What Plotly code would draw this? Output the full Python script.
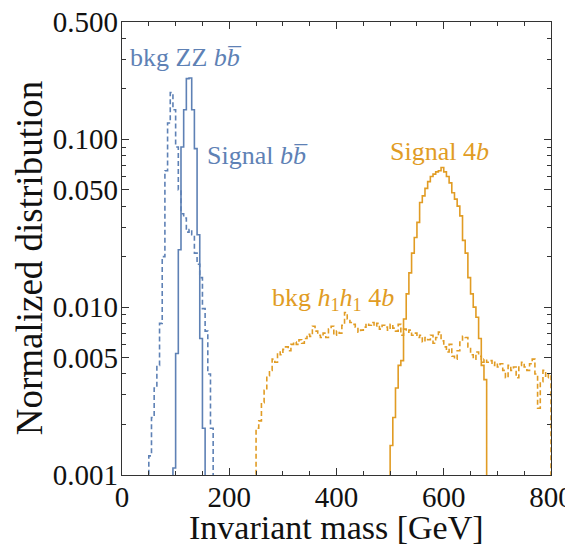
import plotly.graph_objects as go

# ---------------- data (normalized histograms, 5 GeV bins) ----------------
bin_width = 5

# Signal b b-bar (blue solid): first bin edge and bin contents
sig_bb_start = 95
sig_bb = [0.0011, 0.0053, 0.022, 0.090, 0.150, 0.230, 0.232, 0.150, 0.088,
          0.027, 0.0065, 0.0019]

# bkg ZZ b b-bar (blue dashed)
bkg_zz_start = 50
bkg_zz = [0.0013, 0.0022, 0.0033, 0.0045, 0.0080, 0.020, 0.065, 0.125, 0.190,
          0.150, 0.090, 0.050, 0.036, 0.034, 0.028, 0.029, 0.027, 0.021,
          0.018, 0.015, 0.0098, 0.0072, 0.0040, 0.0019]

# Signal 4b (orange solid)
sig_4b_start = 500
sig_4b = [0.0015, 0.0022, 0.0033, 0.0045, 0.0048, 0.0085, 0.012, 0.016,
          0.021, 0.026, 0.032, 0.042, 0.046, 0.051, 0.056, 0.060, 0.062,
          0.064, 0.065, 0.068, 0.064, 0.060, 0.055, 0.048, 0.044, 0.040,
          0.035, 0.025, 0.021, 0.015, 0.012, 0.010, 0.0087, 0.0065, 0.0045,
          0.0037]

# bkg h1 h1 4b (orange dashed)
bkg_4b_start = 250
bkg_4b = [0.0019, 0.0021, 0.0027, 0.0032, 0.0039, 0.0042, 0.0049, 0.0047,
          0.0054, 0.0052, 0.0056, 0.0058, 0.0055, 0.0060, 0.0062, 0.0060,
          0.0064, 0.0061, 0.0065, 0.0069, 0.0067, 0.0077, 0.0072, 0.0068,
          0.0066, 0.0070, 0.0066, 0.0074, 0.0077, 0.0068, 0.0072, 0.0070,
          0.0078, 0.0093, 0.0085, 0.0081, 0.0079, 0.0076, 0.0071, 0.0073,
          0.0076, 0.0080, 0.0078, 0.0081, 0.0077, 0.0080, 0.0074, 0.0078,
          0.0076, 0.0073, 0.0079, 0.0075, 0.0072, 0.0079, 0.0068, 0.0074,
          0.0071, 0.0073, 0.0068, 0.0070, 0.0066, 0.0068, 0.0062, 0.0066,
          0.0064, 0.0068, 0.0061, 0.0066, 0.0071, 0.0063, 0.0058, 0.0054,
          0.0060, 0.0051, 0.0049, 0.0055, 0.0062, 0.0067, 0.0066, 0.0058,
          0.0052, 0.0049, 0.0054, 0.0051, 0.0047, 0.0049, 0.0047, 0.0048,
          0.0045, 0.0047, 0.0044, 0.0046, 0.0042, 0.0038, 0.0045, 0.0042,
          0.0044, 0.0038, 0.0045, 0.0047, 0.0044, 0.0042, 0.0046, 0.0049,
          0.0040, 0.0025, 0.0036, 0.0042, 0.0038, 0.0040]

y_major = [0.001, 0.005, 0.01, 0.05, 0.1, 0.5]
y_major_text = ["0.001", "0.005", "0.010", "0.050", "0.100", "0.500"]
y_minor = [0.002, 0.003, 0.004, 0.006, 0.007, 0.008, 0.009,
           0.02, 0.03, 0.04, 0.06, 0.07, 0.08, 0.09, 0.2, 0.3, 0.4]
x_major = [0, 200, 400, 600, 800]
x_minor = [50, 100, 150, 250, 300, 350, 450, 500, 550, 650, 700, 750]

BLUE = "#5E81B5"
ORANGE = "#E19C24"
FONT = "Liberation Serif"
FLOOR = 1e-5  # below the visible range: the histogram drops off the axis


def step_xy(start, values):
    edges = [start + bin_width * i for i in range(len(values) + 1)]
    x = [edges[0]] + edges
    y = [FLOOR] + list(values) + [FLOOR]
    return x, y


fig = go.Figure()
for start, vals, color, dash in [
    (bkg_zz_start, bkg_zz, BLUE, "5px,3px"),
    (sig_bb_start, sig_bb, BLUE, "solid"),
    (bkg_4b_start, bkg_4b, ORANGE, "5px,3px"),
    (sig_4b_start, sig_4b, ORANGE, "solid"),
]:
    x, y = step_xy(start, vals)
    fig.add_trace(go.Scatter(x=x, y=y, mode="lines", line_shape="hv",
                             line=dict(color=color, width=1.6, dash=dash),
                             hoverinfo="skip", showlegend=False))

ann = [
    (11, -0.515, "bkg ZZ <i>b</i><i>b\u0305</i>", BLUE),
    (155, -1.096, "Signal <i>b</i><i>b\u0305</i>", BLUE),
    (496, -1.072, "Signal 4<i>b</i>", ORANGE),
    (276, -1.952, "bkg <i>h</i><sub>1</sub><i>h</i><sub>1</sub> 4<i>b</i>", ORANGE),
]
for x, y, t, c in ann:
    fig.add_annotation(x=x, y=y, xref="x", yref="y", text=t, showarrow=False,
                       xanchor="left", yanchor="middle",
                       font=dict(family=FONT, size=26, color=c))

fig.add_annotation(x=0.5, y=-0.115, xref="paper", yref="paper",
                   text="Invariant mass [GeV]", showarrow=False,
                   xanchor="center", yanchor="middle",
                   font=dict(family=FONT, size=34, color="#111"))
fig.add_annotation(x=-0.215, y=0.48, xref="paper", yref="paper",
                   text="Normalized distribution", showarrow=False,
                   textangle=-90, xanchor="center", yanchor="middle",
                   font=dict(family=FONT, size=37, color="#111"))

axis_common = dict(showline=True, linecolor="#333", linewidth=1.2,
                   mirror="allticks", ticks="inside", tickcolor="#333",
                   showgrid=False, zeroline=False, automargin=False,
                   ticklabeloverflow="allow",
                   tickfont=dict(family=FONT, size=29, color="#111"))

fig.update_xaxes(range=[0, 800], tickmode="array", tickvals=x_major,
                 ticklen=7, ticklabelstandoff=-4,
                 minor=dict(ticks="inside", tickmode="array",
                            tickvals=x_minor, ticklen=4, tickcolor="#333"),
                 **axis_common)
fig.update_yaxes(type="log", range=[-3, -0.30103], tickmode="array",
                 tickvals=y_major, ticktext=y_major_text, ticklen=7,
                 ticklabelstandoff=-3,
                 minor=dict(ticks="inside", tickmode="array", tickvals=y_minor,
                            ticklen=4, tickcolor="#333"),
                 **axis_common)

# the page adds an 8px body margin, so the figure is sized to fit the window
fig.update_layout(width=565, height=543,
                  margin=dict(l=114, r=22, t=14, b=76),
                  paper_bgcolor="white", plot_bgcolor="white")

fig.write_html("out.html")
